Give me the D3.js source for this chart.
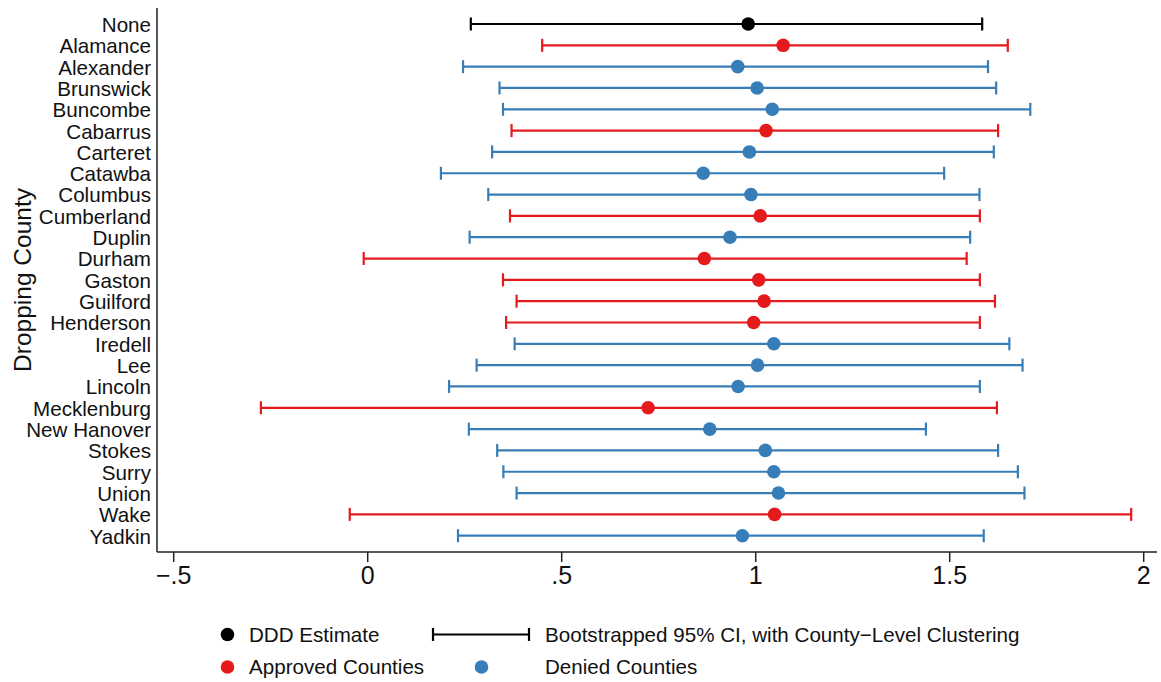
<!DOCTYPE html>
<html>
<head>
<meta charset="utf-8">
<script src="https://cdn.jsdelivr.net/npm/d3@7"></script>
<style>
  body { margin: 0; background: #fff; }
  svg { font-family: "Liberation Sans", Arial, sans-serif; }
</style>
</head>
<body>
<div id="chart"></div>
<script>
// dropping-county robustness check
var counties = ["None", "Alamance", "Alexander", "Brunswick", "Buncombe", "Cabarrus",
    "Carteret", "Catawba", "Columbus", "Cumberland", "Duplin", "Durham", "Gaston",
    "Guilford", "Henderson", "Iredell", "Lee", "Lincoln", "Mecklenburg", "New Hanover",
    "Stokes", "Surry", "Union", "Wake", "Yadkin"]
var groups = ["none", "approved", "denied", "denied", "denied", "approved",
    "denied", "denied", "denied", "approved", "denied", "approved", "approved",
    "approved", "approved", "denied", "denied", "denied", "approved", "denied",
    "denied", "denied", "denied", "approved", "denied"]
var estimates = [0.982, 1.072, 0.955, 1.005, 1.044, 1.028, 0.985, 0.866, 0.989, 1.013,
    0.935, 0.869, 1.009, 1.023, 0.996, 1.048, 1.006, 0.956, 0.724, 0.883,
    1.026, 1.048, 1.060, 1.050, 0.967]
var ci_low = [0.267, 0.451, 0.247, 0.341, 0.350, 0.372, 0.322, 0.190, 0.312, 0.368,
    0.264, -0.009, 0.350, 0.385, 0.358, 0.380, 0.282, 0.211, -0.274, 0.262,
    0.335, 0.351, 0.385, -0.045, 0.234]
var ci_high = [1.585, 1.651, 1.600, 1.621, 1.709, 1.626, 1.615, 1.487, 1.578, 1.579,
    1.554, 1.545, 1.579, 1.618, 1.579, 1.655, 1.689, 1.579, 1.623, 1.440,
    1.626, 1.677, 1.694, 1.969, 1.589]
var x_ticks = [-0.5, 0, 0.5, 1, 1.5, 2]
var x_tick_labels = ["\u2212.5", "0", ".5", "1", "1.5", "2"]

var colour = { none: "#000000", approved: "#e41a1c", denied: "#377eb8" }

var width = 1161, height = 682
var plot = { left: 157, right: 1157, top: 8, bottom: 552 }

var rows = counties.map(function(c, i) {
    return { county: c, group: groups[i], est: estimates[i], lo: ci_low[i], hi: ci_high[i] }
})

var svg = d3.select("#chart").append("svg")
    .attr("width", width)
    .attr("height", height)

var x = d3.scaleLinear().domain([-0.5, 2]).range([173.2, 1143.2])
var y = d3.scalePoint().domain(counties).range([24, 535.7])

// axes: stata-style, lines drawn by hand so they span the whole plot region
svg.append("line")
    .attr("x1", plot.left).attr("x2", plot.left)
    .attr("y1", plot.top).attr("y2", plot.bottom)
    .attr("stroke", "#222").attr("stroke-width", 1.5)
svg.append("line")
    .attr("x1", plot.left).attr("x2", plot.right)
    .attr("y1", plot.bottom).attr("y2", plot.bottom)
    .attr("stroke", "#222").attr("stroke-width", 1.5)

var xAxis = svg.append("g")
    .attr("transform", "translate(0," + plot.bottom + ")")
    .call(d3.axisBottom(x).tickValues(x_ticks)
        .tickFormat(function(d, i) { return x_tick_labels[i] })
        .tickSize(10).tickPadding(4))
xAxis.select(".domain").remove()
xAxis.selectAll("line").attr("stroke", "#222").attr("stroke-width", 1.5)
xAxis.selectAll("text")
    .attr("fill", "#111")
    .style("font-size", "25px")
    .style("font-family", "'Liberation Sans', Arial, sans-serif")

var yAxis = svg.append("g")
    .attr("transform", "translate(" + plot.left + ",0)")
    .call(d3.axisLeft(y).tickSize(0).tickPadding(6))
yAxis.select(".domain").remove()
yAxis.selectAll("text")
    .attr("fill", "#111")
    .attr("dy", "0.36em")
    .style("font-size", "20.6px")
    .style("font-family", "'Liberation Sans', Arial, sans-serif")

svg.append("text")
    .attr("transform", "translate(31,280) rotate(-90)")
    .attr("text-anchor", "middle")
    .attr("fill", "#111")
    .style("font-size", "24.5px")
    .text("Dropping County")

// CI bars
var cap = 6.5
var bars = svg.append("g").selectAll("g")
    .data(rows)
    .enter().append("g")
    .attr("stroke", function(d) { return colour[d.group] })
    .attr("stroke-width", 2.2)

bars.append("line")
    .attr("x1", function(d) { return x(d.lo) })
    .attr("x2", function(d) { return x(d.hi) })
    .attr("y1", function(d) { return y(d.county) })
    .attr("y2", function(d) { return y(d.county) })
bars.append("line")
    .attr("x1", function(d) { return x(d.lo) })
    .attr("x2", function(d) { return x(d.lo) })
    .attr("y1", function(d) { return y(d.county) - cap })
    .attr("y2", function(d) { return y(d.county) + cap })
bars.append("line")
    .attr("x1", function(d) { return x(d.hi) })
    .attr("x2", function(d) { return x(d.hi) })
    .attr("y1", function(d) { return y(d.county) - cap })
    .attr("y2", function(d) { return y(d.county) + cap })

svg.append("g").selectAll("circle")
    .data(rows)
    .enter().append("circle")
    .attr("cx", function(d) { return x(d.est) })
    .attr("cy", function(d) { return y(d.county) })
    .attr("r", 6.8)
    .attr("fill", function(d) { return colour[d.group] })

// legend
var legend = svg.append("g").style("font-size", "20.6px").attr("fill", "#111")

function legend_dot(cx, cy, col) {
    legend.append("circle").attr("cx", cx).attr("cy", cy).attr("r", 6.8).attr("fill", col)
}
function legend_text(tx, ty, s) {
    legend.append("text").attr("x", tx).attr("y", ty).attr("dy", "0.36em").text(s)
}

legend_dot(227.5, 634.5, colour.none)
legend_text(249, 634.5, "DDD Estimate")
legend.append("g").attr("stroke", "#000").attr("stroke-width", 2.2)
    .call(function(g) {
        g.append("line").attr("x1", 433).attr("x2", 529).attr("y1", 634.5).attr("y2", 634.5)
        g.append("line").attr("x1", 433).attr("x2", 433).attr("y1", 628).attr("y2", 641)
        g.append("line").attr("x1", 529).attr("x2", 529).attr("y1", 628).attr("y2", 641)
    })
legend_text(545, 634.5, "Bootstrapped 95% CI, with County\u2212Level Clustering")

legend_dot(227.5, 667, colour.approved)
legend_text(249, 667, "Approved Counties")
legend_dot(481.5, 667, colour.denied)
legend_text(545, 667, "Denied Counties")
</script>
</body>
</html>
